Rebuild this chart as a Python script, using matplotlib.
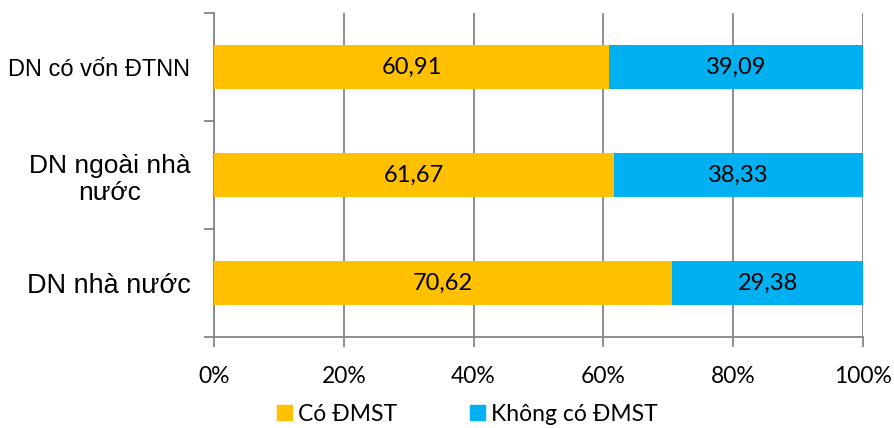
import numpy as np
import matplotlib.pyplot as plt
from matplotlib.patches import Patch

categories = ["DN nhà nước", "DN ngoài nhà\nnước", "DN có vốn ĐTNN"]
co_dmst = [70.62, 61.67, 60.91]
khong_dmst = [29.38, 38.33, 39.09]
xticks = [0, 20, 40, 60, 80, 100]
series_names = ["Có ĐMST", "Không có ĐMST"]

orange = "#FFC000"
blue = "#00B0F0"
grey = "#868686"

fig = plt.figure(figsize=(8.94, 4.28), dpi=100)
ax = fig.add_axes([0.2394, 0.2126, 0.9653 - 0.2394, 0.9696 - 0.2126])

y = np.arange(len(categories))
h = 0.41
b1 = ax.barh(y, co_dmst, height=h, color=orange, zorder=3)
b2 = ax.barh(y, khong_dmst, left=co_dmst, height=h, color=blue, zorder=3)

num_font = "Lato"
for bars in (b1, b2):
    for r in bars:
        w = r.get_width()
        ax.text(r.get_x() + w / 2, r.get_y() + r.get_height() / 2,
                ("%.2f" % w).replace(".", ","), ha="center", va="center",
                fontsize=17, family=num_font, color="black", zorder=4)

ax.set_xlim(0, 100)
ax.set_ylim(-0.5, len(categories) - 0.5)
ax.set_xticks(xticks)
ax.set_xticklabels(["%d%%" % v for v in xticks], family=num_font, fontsize=16.5)
ax.tick_params(axis="x", direction="out", length=7, color=grey, width=1.3, pad=14)
ax.xaxis.grid(True, color=grey, linewidth=1.3, zorder=0)

ax.set_yticks(y)
ax.set_yticks(np.arange(-0.5, len(categories)), minor=True)
ax.tick_params(axis="y", which="major", length=0, pad=17)
ax.tick_params(axis="y", which="minor", length=7, color=grey, width=1.3)
labs = ax.set_yticklabels(categories, family="Liberation Sans", multialignment="center")
sizes = [19.5, 19, 17]
for t, s in zip(labs, sizes):
    t.set_fontsize(s)

for s in ["top", "right"]:
    ax.spines[s].set_visible(False)
for s in ["left", "bottom"]:
    ax.spines[s].set_color(grey)
    ax.spines[s].set_linewidth(1.3)

handles = [Patch(color=orange), Patch(color=blue)]
fig.legend(handles, series_names, loc="center", bbox_to_anchor=(0.523, 0.032),
           ncol=2, frameon=False, prop={"family": num_font, "size": 16.5},
           handlelength=0.65, handleheight=0.65, handletextpad=0.26, columnspacing=3.2)

fig.savefig("out.png", dpi=100)
